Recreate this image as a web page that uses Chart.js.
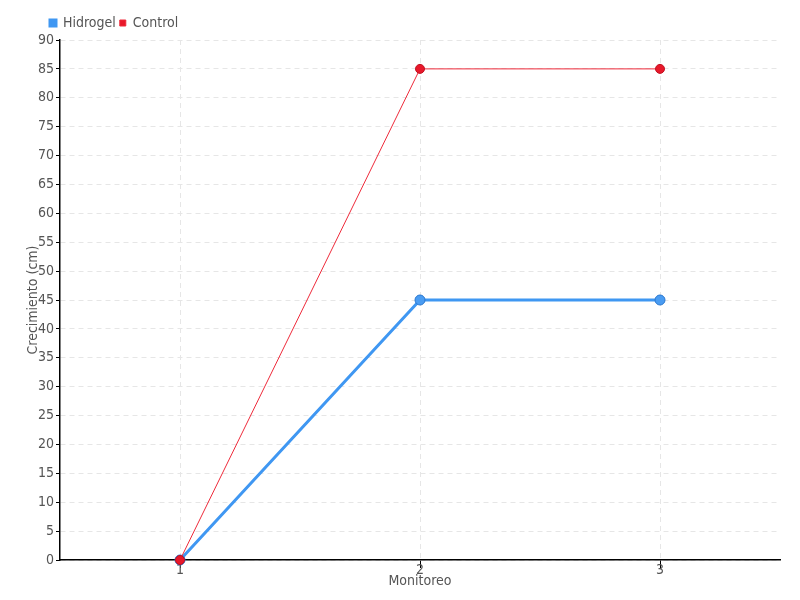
<!DOCTYPE html>
<html><head><meta charset="utf-8">
<script src="https://cdn.jsdelivr.net/npm/chart.js@4/dist/chart.umd.min.js"></script>
<style>html,body{margin:0;padding:0;background:#fff}#wrap{width:800px;height:600px}</style>
</head><body><div id="wrap"><canvas id="c" width="800" height="600"></canvas></div>
<script>
const categories = ["1", "2", "3"];
const hidrogel = [0, 45, 45];
const control = [0, 85, 85];
const yTicks = [0,5,10,15,20,25,30,35,40,45,50,55,60,65,70,75,80,85,90];

const FONT = "'DejaVu Sans Condensed', 'Liberation Sans Narrow', sans-serif";
Chart.defaults.font.family = FONT;
Chart.defaults.color = '#555';

new Chart(document.getElementById('c'), {
  type: 'line',
  data: {
    labels: categories,
    datasets: [
      { label: 'Hidrogel', data: hidrogel, borderColor: '#3f97f2', backgroundColor: '#3f97f2',
        pointBackgroundColor: '#4a9cf2', pointBorderColor: '#2a78d0', pointBorderWidth: 1,
        borderWidth: 3, pointRadius: 5, tension: 0, order: 2, clip: false },
      { label: 'Control', data: control, borderColor: '#ee2a3a', backgroundColor: '#e8182a',
        pointBackgroundColor: '#e8182a', pointBorderColor: '#c01020', pointBorderWidth: 1,
        borderWidth: 1, pointRadius: 4.5, tension: 0, order: 1, clip: false }
    ]
  },
  options: {
    responsive: false,
    animation: false,
    layout: { padding: { left: 0, right: 20, top: 12, bottom: 0 } },
    plugins: {
      legend: {
        position: 'top', align: 'start',
        labels: { boxWidth: 6, boxHeight: 6, font: { size: 14 }, color: '#555', padding: 4,
          sort: (a, b) => a.datasetIndex - b.datasetIndex }
      },
      tooltip: { enabled: false }
    },
    scales: {
      x: {
        offset: true,
        grid: { offset: false, color: '#e6e6e6', tickColor: '#000', tickLength: 8, drawTicks: true },
        border: { color: '#000', width: 1.5, dash: [5, 4] },
        ticks: { font: { size: 14 }, color: '#555', padding: -6 },
        title: { display: true, text: 'Monitoreo', font: { size: 14 }, color: '#555', padding: { top: 0, bottom: 10 } },
        afterFit: s => { s.height = 40; }
      },
      y: {
        min: 0, max: 90,
        afterBuildTicks: s => { s.ticks = yTicks.map(v => ({ value: v })); },
        grid: { color: '#e6e6e6', tickColor: '#000', tickLength: 4 },
        border: { color: '#000', width: 1.5, dash: [5, 4] },
        ticks: { font: { size: 14 }, color: '#555', padding: 2 },
        title: { display: true, text: 'Crecimiento (cm)', font: { size: 14 }, color: '#555', padding: { top: 25, bottom: 0 } },
        afterFit: s => { s.width = 60; }
      }
    }
  },
  plugins: [{
    id: 'legendShift',
    afterLayout(chart) { if (chart.legend) { chart.legend.left += 46; } }
  }]
});
</script></body></html>
